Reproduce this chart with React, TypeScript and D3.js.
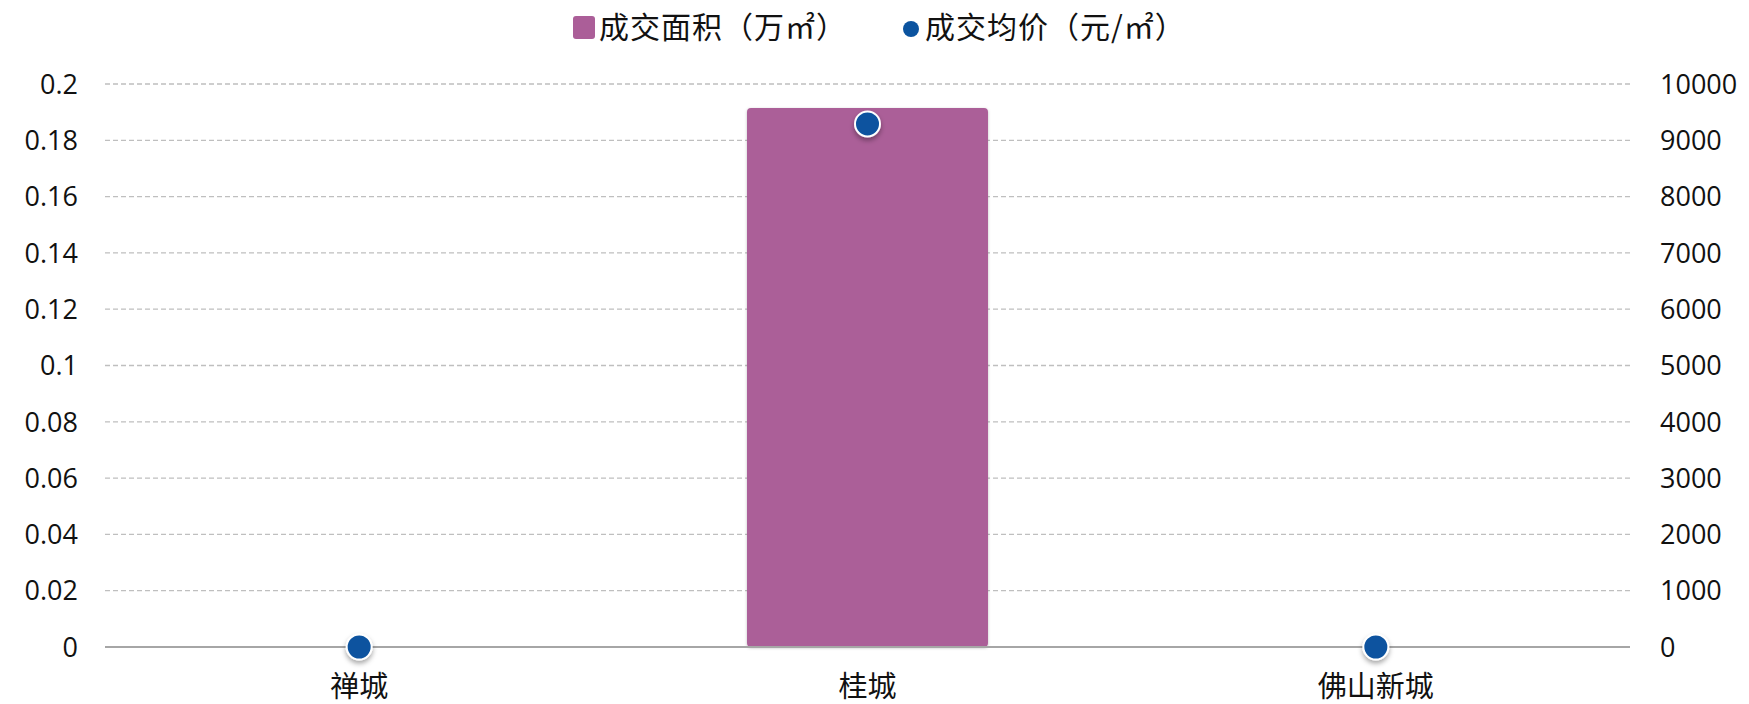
import React from "react";
import * as d3 from "d3";

const categories = ["禅城", "桂城", "佛山新城"];
const areaValues = [0, 0.1915, 0];
const priceValues = [0, 9290, 0];
const leftTicks = [0, 0.02, 0.04, 0.06, 0.08, 0.1, 0.12, 0.14, 0.16, 0.18, 0.2];
const rightTicks = [0, 1000, 2000, 3000, 4000, 5000, 6000, 7000, 8000, 9000, 10000];
const legendLabels = ["成交面积（万㎡）", "成交均价（元/㎡）"];

const W = 1749, H = 704;
const left = 105, right = 1630, top = 84, bottom = 647;
const barColor = "#AB5E98";
const dotColor = "#0B539F";
const numFont = "'Open Sans', sans-serif";
const cjkFont = "'Noto Sans CJK SC', sans-serif";

export default function App() {
  const x = d3.scaleBand<string>().domain(categories).range([left, right]).paddingInner(0.526).paddingOuter(0.263);
  const yL = d3.scaleLinear().domain([0, 0.2]).range([bottom, top]);
  const yR = d3.scaleLinear().domain([0, 10000]).range([bottom, top]);
  const cx = (c: string) => (x(c) as number) + x.bandwidth() / 2;
  return (
    <svg width={W} height={H} style={{ position: "absolute", left: 0, top: 0 }}>
      <defs>
        <filter id="sh" x="-50%" y="-50%" width="200%" height="200%">
          <feDropShadow dx="0" dy="3" stdDeviation="2.5" floodColor="#000" floodOpacity="0.35" />
        </filter>
        <filter id="bsh" x="-5%" y="-5%" width="110%" height="110%">
          <feDropShadow dx="0" dy="1" stdDeviation="1.5" floodColor="#000" floodOpacity="0.25" />
        </filter>
      </defs>
      <rect width={W} height={H} fill="#fff" />
      {leftTicks.map((t, i) =>
        t === 0 ? null : (
          <line key={"g" + i} x1={left} x2={right} y1={yL(t)} y2={yL(t)} stroke="#BFBFBF" strokeWidth={1.3} strokeDasharray="5,3" />
        )
      )}
      {leftTicks.map((t, i) => (
        <text key={"l" + i} x={78} y={yL(t)} dy="0.36em" textAnchor="end" fontSize={27} fontFamily={numFont} fill="#111">
          {String(t)}
        </text>
      ))}
      {rightTicks.map((t, i) => (
        <text key={"r" + i} x={1660} y={yR(t)} dy="0.36em" textAnchor="start" fontSize={27} fontFamily={numFont} fill="#111">
          {String(t)}
        </text>
      ))}
      {categories.map((c, i) => (
        <rect key={"b" + i} x={x(c)} y={yL(areaValues[i])} width={x.bandwidth()} height={bottom - yL(areaValues[i])} rx={4} fill={barColor} filter="url(#bsh)" />
      ))}
      <line x1={left} x2={right} y1={bottom} y2={bottom} stroke="#A6A6A6" strokeWidth={2} />
      {categories.map((c, i) => (
        <circle key={"p" + i} cx={cx(c)} cy={yR(priceValues[i])} r={12.5} fill={dotColor} stroke="#fff" strokeWidth={2} filter="url(#sh)" />
      ))}
      {categories.map((c, i) => (
        <text key={"c" + i} x={cx(c)} y={697} textAnchor="middle" fontSize={29} fontFamily={cjkFont} fill="#111">
          {c}
        </text>
      ))}
      <rect x={573} y={16} width={22} height={23} rx={3} fill={barColor} />
      <text x={599} y={38} fontSize={30} letterSpacing={1} fontFamily={cjkFont} fill="#111">{legendLabels[0]}</text>
      <circle cx={911} cy={29} r={8} fill={dotColor} />
      <text x={925} y={38} fontSize={30} letterSpacing={1} fontFamily={cjkFont} fill="#111">{legendLabels[1]}</text>
    </svg>
  );
}
